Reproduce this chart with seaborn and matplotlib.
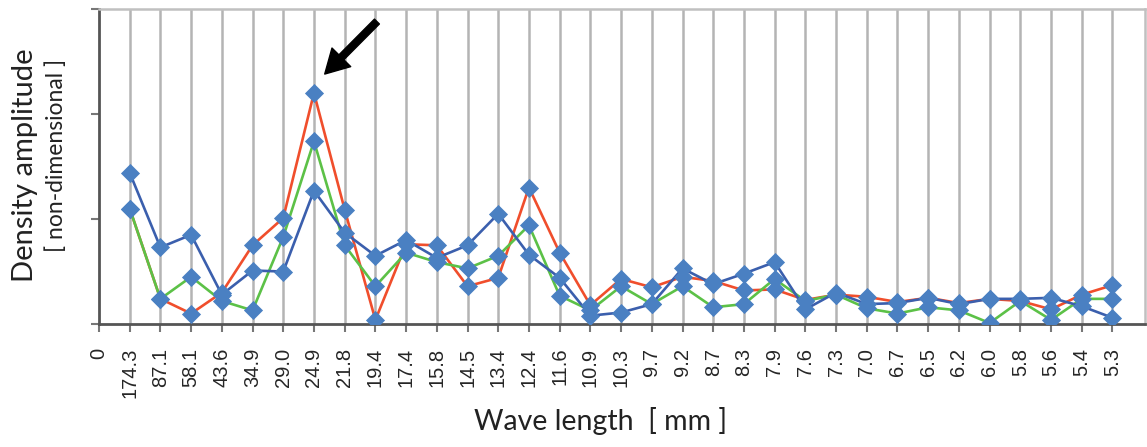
import numpy as np
import pandas as pd
import seaborn as sns
import matplotlib.pyplot as plt

# categorias do eixo x (comprimento de onda em mm)
wave_labels = ["0", "174.3", "87.1", "58.1", "43.6", "34.9", "29.0", "24.9", "21.8", "19.4",
               "17.4", "15.8", "14.5", "13.4", "12.4", "11.6", "10.9", "10.3", "9.7", "9.2",
               "8.7", "8.3", "7.9", "7.6", "7.3", "7.0", "6.7", "6.5", "6.2", "6.0",
               "5.8", "5.6", "5.4", "5.3"]

# amplitudes (comecam em 174.3)
red_vals = [1.10, 0.24, 0.10, 0.30, 0.75, 1.01, 2.20, 1.09, 0.04, 0.76,
            0.75, 0.36, 0.44, 1.30, 0.68, 0.18, 0.43, 0.35, 0.45, 0.41,
            0.32, 0.33, 0.23, 0.28, 0.26, 0.21, 0.25, 0.20, 0.24, 0.22,
            0.14, 0.28, 0.37]
green_vals = [1.10, 0.24, 0.45, 0.22, 0.13, 0.83, 1.74, 0.75, 0.36, 0.68,
              0.59, 0.53, 0.65, 0.94, 0.27, 0.13, 0.36, 0.19, 0.36, 0.16,
              0.19, 0.43, 0.22, 0.28, 0.15, 0.10, 0.16, 0.13, 0.01, 0.22,
              0.04, 0.24, 0.24]
blue_vals = [1.44, 0.73, 0.85, 0.28, 0.51, 0.50, 1.27, 0.87, 0.65, 0.80,
             0.63, 0.75, 1.05, 0.66, 0.44, 0.08, 0.11, 0.19, 0.53, 0.38,
             0.48, 0.59, 0.14, 0.30, 0.19, 0.20, 0.25, 0.19, 0.24, 0.24,
             0.25, 0.17, 0.06]

pos = np.arange(1, len(wave_labels))
df = pd.concat([
    pd.DataFrame({"pos": pos, "amp": red_vals, "serie": "red"}),
    pd.DataFrame({"pos": pos, "amp": green_vals, "serie": "green"}),
    pd.DataFrame({"pos": pos, "amp": blue_vals, "serie": "blue"}),
])

sns.set_style("white")
plt.rcParams['font.family'] = ['Liberation Sans', 'DejaVu Sans']

fig = plt.figure(figsize=(11.47, 4.47), dpi=100)
ax = fig.add_axes([0.0863, 0.275, 0.9117, 0.705])

# grade vertical
for p in pos:
    ax.axvline(p, color='#b4b4b4', lw=1.8, zorder=0)

cores = {"red": "#f04e2c", "green": "#5cc147", "blue": "#3b5fad"}
sns.lineplot(data=df, x="pos", y="amp", hue="serie", palette=cores, lw=1.9,
             legend=False, ax=ax, zorder=2)
sns.scatterplot(data=df, x="pos", y="amp", marker="D", color="#4a80c2", s=95,
                edgecolor="#4a80c2", linewidth=0, legend=False, ax=ax, zorder=3)

ax.set_xlim(0, 34.05)
ax.set_ylim(0, 3)
ax.set_xticks(np.arange(len(wave_labels)))
ax.set_xticklabels(wave_labels, rotation=90, fontsize=14.5)
ax.set_yticks([0, 1, 2, 3])
ax.set_yticklabels([])
ax.tick_params(axis='both', direction='out', length=6, width=1.5, color='#777777',
               bottom=True, left=True)
ax.tick_params(axis='x', pad=11)
ax.set_xlabel("")
ax.set_ylabel("")

for lado in ['left', 'bottom']:
    ax.spines[lado].set_color('#555555')
    ax.spines[lado].set_linewidth(2)
for lado in ['top', 'right']:
    ax.spines[lado].set_color('#c0c0c0')
    ax.spines[lado].set_linewidth(1.8)

# seta apontando o pico
ax.annotate("", xy=(7.35, 2.38), xytext=(9.05, 2.88),
            arrowprops=dict(facecolor='black', edgecolor='black', width=5,
                            headwidth=19, headlength=17, shrink=0))

fig.text(0.022, 0.631, "Density amplitude", rotation=90, ha='center', va='center',
         fontsize=21, family=['Lato', 'DejaVu Sans'], color='#222222')
fig.text(0.049, 0.653, "[ non-dimensional ]", rotation=90, ha='center', va='center',
         fontsize=16.5, family=['Lato', 'DejaVu Sans'], color='#222222')
fig.text(0.524, 0.058, "Wave length  [ mm ]", ha='center', va='center',
         fontsize=20.5, family=['Lato', 'DejaVu Sans'], color='#222222')

fig.savefig("out.png", dpi=100)
